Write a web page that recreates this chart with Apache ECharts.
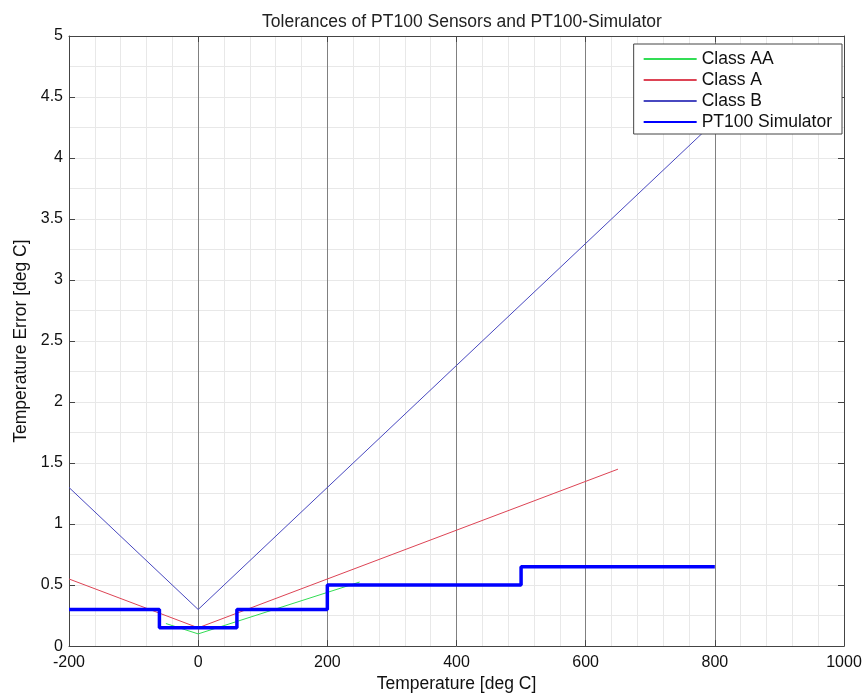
<!DOCTYPE html>
<html>
<head>
<meta charset="utf-8">
<script src="https://cdn.jsdelivr.net/npm/echarts@6/dist/echarts.min.js"></script>
<style>
html, body { margin: 0; padding: 0; background: #fff; }
#chart { width: 865px; height: 698px; }
</style>
</head>
<body>
<div id="chart"></div>
<script>
// 数据
var classAATemps = [-50, 0, 250];
var classAAErrors = [0.185, 0.1, 0.525];
var classATemps = [-200, 0, 650];
var classAErrors = [0.55, 0.15, 1.45];
var classBTemps = [-200, 0, 800];
var classBErrors = [1.3, 0.3, 4.3];
var simTemps = [-200, -60, -60, 60, 60, 200, 200, 500, 500, 800];
var simErrors = [0.3, 0.3, 0.15, 0.15, 0.3, 0.3, 0.5, 0.5, 0.65, 0.65];

function pairs(xs, ys) {
    return xs.map(function (x, i) { return [x, ys[i]]; });
}

var font = 'Liberation Sans, Arial, sans-serif';
var lightGrid = { color: '#e8e8e8', width: 1 };
var axisColor = '#444';

var myChart = echarts.init(document.getElementById('chart'));

var option = {
    animation: false,
    backgroundColor: '#fff',
    title: {
        text: 'Tolerances of PT100 Sensors and PT100-Simulator',
        left: 457,
        textAlign: 'center',
        top: 8,
        textStyle: { fontFamily: font, fontSize: 17.5, fontWeight: 'normal', color: '#222' }
    },
    legend: {
        orient: 'vertical',
        right: 23,
        top: 44,
        padding: [6, 10, 3, 9],
        itemGap: 3,
        itemWidth: 53,
        itemHeight: 14,
        itemTextGap: 7,
        borderColor: '#444',
        borderWidth: 1,
        backgroundColor: '#fff',
        itemStyle: { opacity: 0 },
        textStyle: { fontFamily: font, fontSize: 17.5, lineHeight: 18, color: '#111' },
        data: ['Class AA', 'Class A', 'Class B', 'PT100 Simulator']
    },
    grid: { left: 69, right: 21, top: 36, bottom: 50, containLabel: false },
    xAxis: [
        {
            type: 'value',
            min: -200,
            max: 1000,
            interval: 200,
            name: 'Temperature [deg C]',
            nameLocation: 'middle',
            nameGap: 26,
            nameTextStyle: { fontFamily: font, fontSize: 17.5, color: '#111' },
            axisLine: { show: true, onZero: false, lineStyle: { color: axisColor } },
            axisTick: { show: true, inside: true, length: 6, lineStyle: { color: axisColor } },
            axisLabel: {
                fontFamily: font, fontSize: 16, color: '#111', margin: 8,
                formatter: function (v) { return String(v); }
            },
            splitLine: { show: true, lineStyle: { color: '#808080', width: 1 } },
            minorTick: { show: false, splitNumber: 5 },
            minorSplitLine: { show: true, lineStyle: lightGrid }
        },
        {
            type: 'value',
            position: 'top',
            min: -200,
            max: 1000,
            interval: 200,
            axisLine: { show: true, onZero: false, lineStyle: { color: axisColor } },
            axisTick: { show: true, inside: true, length: 6, lineStyle: { color: axisColor } },
            axisLabel: { show: false },
            splitLine: { show: false }
        }
    ],
    yAxis: [
        {
            type: 'value',
            min: 0,
            max: 5,
            interval: 0.5,
            name: 'Temperature Error [deg C]',
            nameLocation: 'middle',
            nameGap: 38,
            nameTextStyle: { fontFamily: font, fontSize: 17.5, color: '#111' },
            axisLine: { show: true, onZero: false, lineStyle: { color: axisColor } },
            axisTick: { show: true, inside: true, length: 6, lineStyle: { color: axisColor } },
            axisLabel: { fontFamily: font, fontSize: 16, color: '#111', margin: 6 },
            splitLine: { show: true, lineStyle: lightGrid },
            minorTick: { show: false, splitNumber: 2 },
            minorSplitLine: { show: true, lineStyle: lightGrid }
        },
        {
            type: 'value',
            position: 'right',
            min: 0,
            max: 5,
            interval: 0.5,
            axisLine: { show: true, onZero: false, lineStyle: { color: axisColor } },
            axisTick: { show: true, inside: true, length: 6, lineStyle: { color: axisColor } },
            axisLabel: { show: false },
            splitLine: { show: false }
        }
    ],
    series: [
        {
            name: 'Class AA',
            type: 'line',
            symbol: 'none',
            data: pairs(classAATemps, classAAErrors),
            lineStyle: { color: '#33dd55', width: 1 },
            itemStyle: { color: '#33dd55' }
        },
        {
            name: 'Class A',
            type: 'line',
            symbol: 'none',
            data: pairs(classATemps, classAErrors),
            lineStyle: { color: '#dd4455', width: 1 },
            itemStyle: { color: '#dd4455' }
        },
        {
            name: 'Class B',
            type: 'line',
            symbol: 'none',
            data: pairs(classBTemps, classBErrors),
            lineStyle: { color: '#4848c0', width: 1 },
            itemStyle: { color: '#4848c0' }
        },
        {
            name: 'PT100 Simulator',
            type: 'line',
            symbol: 'none',
            data: pairs(simTemps, simErrors),
            lineStyle: { color: '#0000ff', width: 3.5 },
            itemStyle: { color: '#0000ff' }
        }
    ]
};

myChart.setOption(option);
</script>
</body>
</html>
